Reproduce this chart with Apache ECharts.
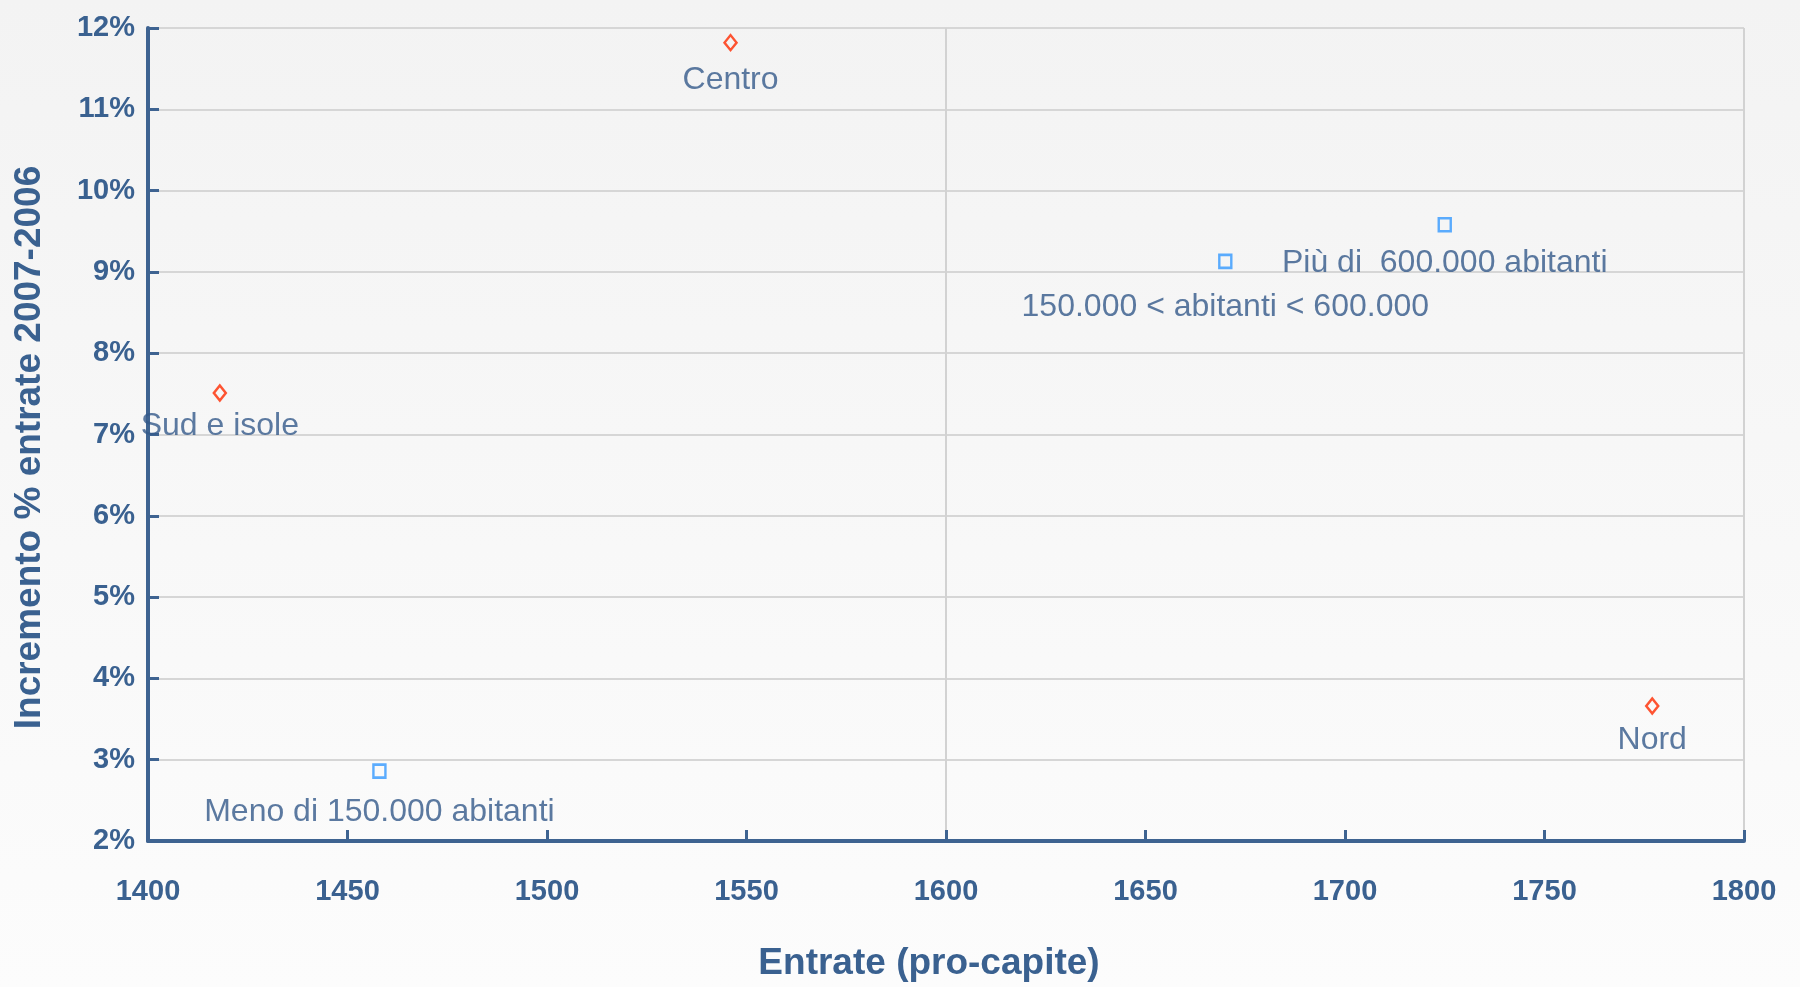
<!DOCTYPE html>
<html>
<head>
<meta charset="utf-8">
<script src="https://cdn.jsdelivr.net/npm/echarts@6/dist/echarts.min.js"></script>
<style>
html,body{margin:0;padding:0;}
#chart{width:1800px;height:987px;}
</style>
</head>
<body>
<div id="chart"></div>
<script>
// Data
const regionNames = ['Centro', 'Sud e isole', 'Nord'];
const regionX = [1546, 1418, 1777];
const regionY = [11.82, 7.51, 3.66];

const popNames = ['Più di  600.000 abitanti', '150.000 < abitanti < 600.000', 'Meno di 150.000 abitanti'];
const popX = [1725, 1670, 1458];
const popY = [9.58, 9.13, 2.86];

const xTicks = { min: 1400, max: 1800, interval: 50 };
const yTicks = { min: 2, max: 12, interval: 1 };

// label distances (style only)
const regionLabelGap = [13, 8, 9];
const popLabelGap = [15, 22, 17];

const textColor = '#3A6190';
const pointLabelColor = '#33598A';
const fontFam = '"Liberation Sans", Arial, sans-serif';

function pts(xs, ys, names, gaps) {
  return xs.map((x, i) => ({ value: [x, ys[i]], name: names[i], label: { distance: gaps[i] } }));
}

const chart = echarts.init(document.getElementById('chart'));
chart.setOption({
  backgroundColor: {
    type: 'linear', x: 0, y: 0, x2: 0, y2: 1,
    colorStops: [{ offset: 0, color: '#f3f3f3' }, { offset: 1, color: '#fcfcfc' }]
  },
  animation: false,
  grid: { left: 148, right: 56, top: 28, bottom: 145 },
  xAxis: [{
    type: 'value', min: xTicks.min, max: xTicks.max, interval: xTicks.interval,
    name: 'Entrate (pro-capite)', nameLocation: 'middle', nameGap: 104,
    nameTextStyle: { color: textColor, fontSize: 37, fontWeight: 'bold', fontFamily: fontFam, padding: [0, 34, 0, 0] },
    axisLine: { show: true, lineStyle: { color: '#3E6391', width: 4 } },
    axisTick: { show: true, inside: true, length: 11, lineStyle: { color: '#3E6391', width: 3 } },
    axisLabel: { color: textColor, fontSize: 29, fontWeight: 'bold', fontFamily: fontFam, margin: 36, formatter: v => String(v) },
    splitLine: { show: false }
  }, {
    type: 'value', min: xTicks.min, max: xTicks.max, interval: 200, position: 'bottom',
    axisLine: { show: false }, axisTick: { show: false }, axisLabel: { show: false },
    splitLine: { show: true, lineStyle: { color: '#d2d2d2', width: 2 } }
  }],
  yAxis: {
    type: 'value', min: yTicks.min, max: yTicks.max, interval: yTicks.interval,
    name: 'Incremento % entrate 2007-2006', nameLocation: 'middle', nameGap: 100,
    nameTextStyle: { color: textColor, fontSize: 37, fontWeight: 'bold', fontFamily: fontFam, padding: [0, 26, 0, 0] },
    axisLine: { show: true, lineStyle: { color: '#3E6391', width: 4 } },
    axisTick: { show: true, inside: true, length: 11, lineStyle: { color: '#3E6391', width: 3 } },
    axisLabel: { color: textColor, fontSize: 29, fontWeight: 'bold', fontFamily: fontFam, margin: 13, formatter: '{value}%' },
    splitLine: { show: true, lineStyle: { color: '#d6d6d6', width: 2 } }
  },
  series: [{
    type: 'scatter', name: 'Aree',
    data: pts(regionX, regionY, regionNames, regionLabelGap),
    symbol: 'diamond', symbolSize: [12, 15],
    itemStyle: { color: 'rgba(0,0,0,0)', borderColor: '#FF2a00', borderWidth: 2.5 },
    label: { show: true, position: 'bottom', formatter: '{b}', color: pointLabelColor, fontSize: 32, fontFamily: fontFam }
  }, {
    type: 'scatter', name: 'Classi demografiche',
    data: pts(popX, popY, popNames, popLabelGap),
    symbol: 'rect', symbolSize: [12, 13],
    itemStyle: { color: 'rgba(0,0,0,0)', borderColor: '#3399FF', borderWidth: 2.5 },
    label: { show: true, position: 'bottom', formatter: '{b}', color: pointLabelColor, fontSize: 32, fontFamily: fontFam }
  }]
});
</script>
</body>
</html>
